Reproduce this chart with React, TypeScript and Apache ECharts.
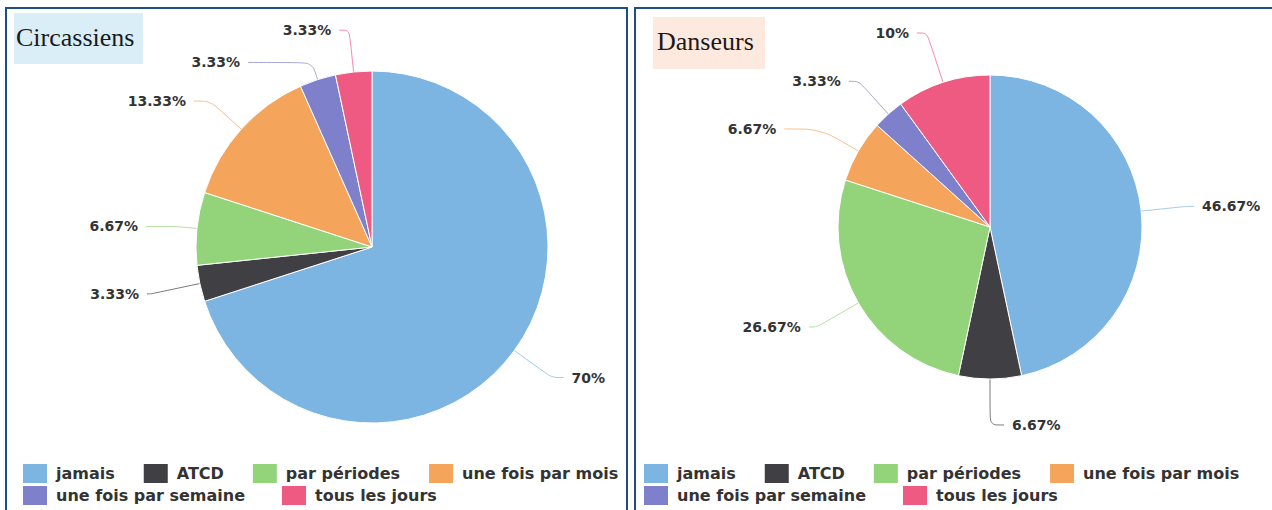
import React, { useEffect, useRef } from "react";
import * as echarts from "echarts";

const categories = [
  "jamais",
  "ATCD",
  "par périodes",
  "une fois par mois",
  "une fois par semaine",
  "tous les jours",
];
const circassiensValues = [70, 3.33, 6.67, 13.33, 3.33, 3.33];
const danseursValues = [46.67, 6.67, 26.67, 6.67, 3.33, 10];
const panelTitles = ["Circassiens", "Danseurs"];

// connector line lengths per slice: [radial length, horizontal length]
const circassiensLines = [[46, 12], [50, 4], [20, 31], [42, 16], [18, 64], [42, 10]];
const danseursLines = [[45, 8], [46, 14], [48, 8], [44, 36], [44, 10], [52, 10]];

const colors = ["#7cb4e2", "#404044", "#93d47a", "#f5a45c", "#7f80cb", "#ee5a82"];
const legendFont = {
  fontFamily: "DejaVu Sans",
  fontSize: 16,
  fontWeight: "bold",
  color: "#333",
  padding: [0, 0, 0, 4],
};

export default function App() {
  const ref = useRef<HTMLDivElement>(null);
  useEffect(() => {
    if (!ref.current) return;
    const chart = echarts.init(ref.current, null, { renderer: "svg" });
    const mkData = (vals: number[], lines: number[][]) =>
      categories.map((name, i) => ({
        name,
        value: vals[i],
        labelLine: { length: lines[i][0], length2: lines[i][1] },
      }));
    const pieBase = {
      type: "pie",
      startAngle: 90,
      clockwise: true,
      avoidLabelOverlap: true,
      itemStyle: { borderColor: "#ffffff", borderWidth: 1 },
      label: {
        show: true,
        position: "outside",
        formatter: (p: any) => `${p.value}%`,
        fontFamily: "DejaVu Sans",
        fontSize: 14,
        fontWeight: "bold",
        color: "#333",
        distanceToLabelLine: 8,
        overflow: "none",
      },
      labelLine: { show: true, length: 42, length2: 10, smooth: 0.3, lineStyle: { width: 1, opacity: 0.7 } },
      emphasis: { disabled: true },
    };
    const row1 = categories.slice(0, 4);
    const row2 = categories.slice(4);
    const legendBase = {
      orient: "horizontal",
      padding: 0,
      itemWidth: 24,
      itemHeight: 19,
      itemStyle: { borderWidth: 0 },
      textStyle: legendFont,
      selectedMode: false,
      icon: "rect",
    };
    chart.setOption({
      animation: false,
      color: colors,
      legend: [
        { ...legendBase, data: row1, left: 23, top: 464, itemGap: 29 },
        { ...legendBase, data: row2, left: 23, top: 486, itemGap: 37 },
        { ...legendBase, data: row1, left: 644, top: 464, itemGap: 29 },
        { ...legendBase, data: row2, left: 644, top: 486, itemGap: 37 },
      ],
      graphic: [
        { type: "rect", shape: { x: 6, y: 8, width: 621, height: 530 }, style: { fill: "none", stroke: "#1f4e86", lineWidth: 2 } },
        { type: "rect", shape: { x: 635, y: 8, width: 660, height: 530 }, style: { fill: "none", stroke: "#1f4e86", lineWidth: 2 } },
        { type: "rect", shape: { x: 14, y: 13, width: 129, height: 51 }, style: { fill: "#d9eef6" } },
        { type: "rect", shape: { x: 653, y: 17, width: 112, height: 52 }, style: { fill: "#fde9de" } },
        {
          type: "text",
          x: 16,
          y: 37,
          style: { text: panelTitles[0], font: '26px "Liberation Serif"', fill: "#1a1a1a", verticalAlign: "middle" },
        },
        {
          type: "text",
          x: 657,
          y: 41,
          style: { text: panelTitles[1], font: '26px "Liberation Serif"', fill: "#1a1a1a", verticalAlign: "middle" },
        },
      ],
      series: [
        { ...pieBase, name: panelTitles[0], center: [372, 247], radius: 176, data: mkData(circassiensValues, circassiensLines) },
        { ...pieBase, name: panelTitles[1], center: [990, 227], radius: 152, data: mkData(danseursValues, danseursLines) },
      ],
    });
    return () => chart.dispose();
  }, []);
  return <div ref={ref} style={{ position: "absolute", left: 0, top: 0, width: 1272, height: 510 }} />;
}
